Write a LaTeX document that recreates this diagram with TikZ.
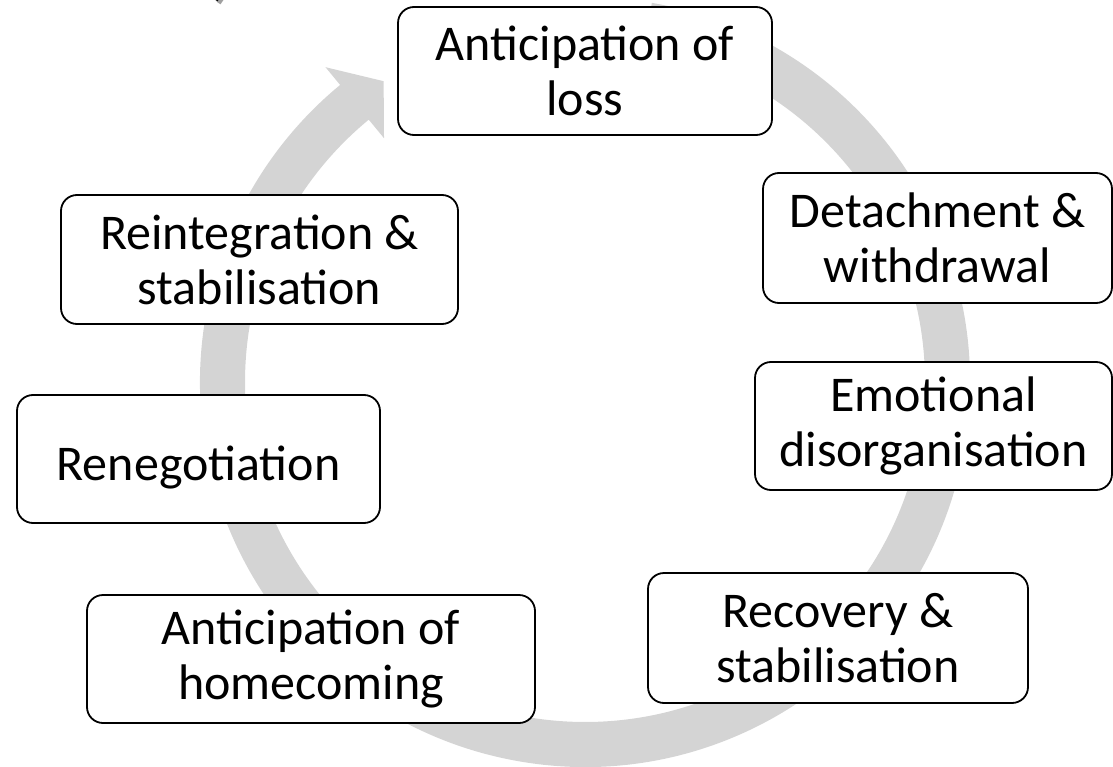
\documentclass[tikz,border=0pt]{standalone}
\usepackage{fontspec}
\setmainfont{Carlito}
\usetikzlibrary{calc}
\definecolor{ringgray}{RGB}{212,212,212}
\definecolor{shadowgray}{RGB}{160,160,160}
\tikzset{
  stage/.style={draw=black, line width=1.8pt, fill=white, rounded corners=16pt,
    align=center, inner sep=0pt, font=\fontsize{50}{55}\selectfont},
  ring/.style={fill=ringgray, draw=none},
  titlefrag/.style={anchor=base, font=\fontsize{90}{90}\selectfont\itshape}
}
\begin{document}
\begin{tikzpicture}[x=1pt,y=-1pt]
\useasboundingbox (0,0) rectangle (1113,767);
% partial title fragment at top (cut off by the page edge)
\node[titlefrag, text=shadowgray] (titleshadow) at (229,-7) {)};
\node[titlefrag, text=black] (title) at (226,-10) {)};
% cycle ring
\coordinate (C) at (585,382);
\fill[ring] ($(C)+(-80:385)$) arc[start angle=-80,end angle=230.5,radius=385]
  -- ($(C)+(230.5:408)$) -- ($(C)+(236.2:362)$) -- ($(C)+(230.5:316)$)
  -- ($(C)+(230.5:340)$) arc[start angle=230.5,end angle=-80,radius=340] -- cycle;
% stages
\node[stage, minimum width=374pt, minimum height=128pt] (loss) at (585,71) {Anticipation of\\loss};
\node[stage, minimum width=349pt, minimum height=130pt] (detach) at (937.5,238) {Detachment \&\\withdrawal};
\node[stage, minimum width=357pt, minimum height=128pt] (emot) at (933.5,426) {Emotional\\disorganisation};
\node[stage, minimum width=380pt, minimum height=130pt] (recov) at (838,638) {Recovery \&\\stabilisation};
\node[stage, minimum width=448pt, minimum height=128pt] (home) at (311,659) {Anticipation of\\homecoming};
\node[stage, minimum width=363pt, minimum height=128pt] (reneg) at (198.5,459) {\rule{0pt}{51pt}Renegotiation};
\node[stage, minimum width=397pt, minimum height=129pt] (reint) at (259.5,259.5) {Reintegration \&\\stabilisation};
\end{tikzpicture}
\end{document}
